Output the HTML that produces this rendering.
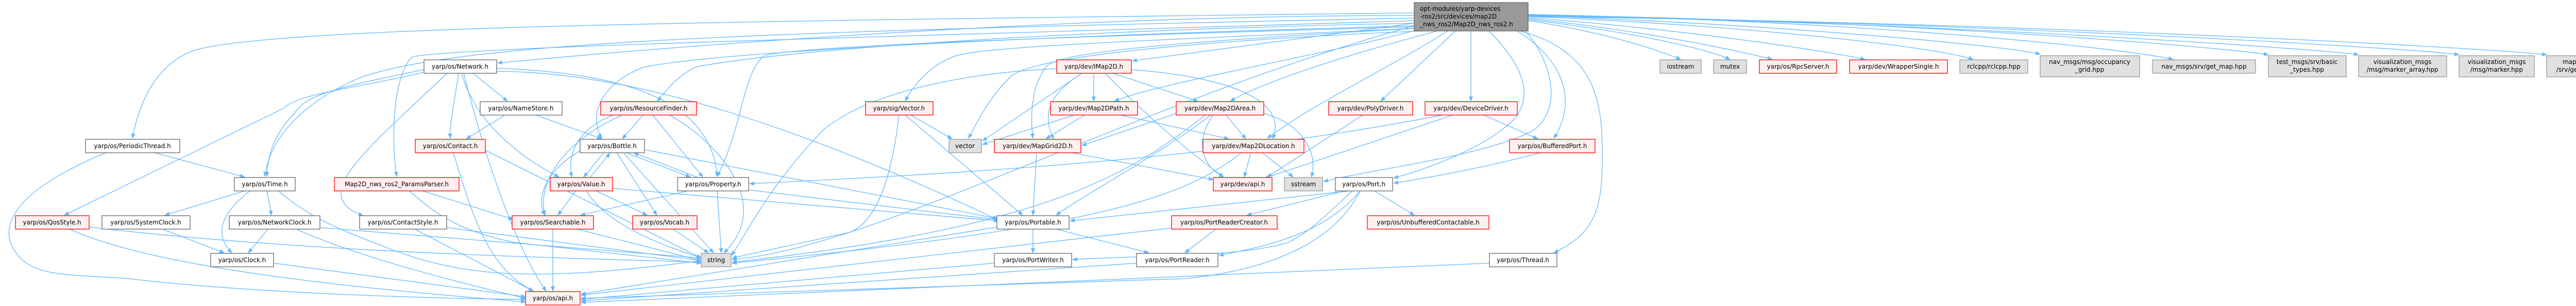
<!DOCTYPE html>
<html><head><meta charset="utf-8"><style>
html,body{margin:0;padding:0;background:#fff;}
svg{display:block;}
text{font-family:"DejaVu Sans","Liberation Sans",sans-serif;font-size:12px;fill:#000;}
.n{fill:#fff;stroke:#666;stroke-width:1.3}
.r{fill:#fff0f0;stroke:#f00;stroke-width:1.3}
.g{fill:#e0e0e0;stroke:#999;stroke-width:1.3}
.e path{fill:none;stroke:#63b8ff;stroke-width:1.3;marker-end:url(#a)}
</style></head><body>
<svg width="5152" height="593" viewBox="0 0 5152 593" xmlns="http://www.w3.org/2000/svg">
<defs><marker id="a" markerWidth="10" markerHeight="8" refX="9" refY="4" orient="auto" markerUnits="userSpaceOnUse"><path d="M0,0 L10,4 L0,8z" fill="#63b8ff"/></marker></defs>
<g class="e">
<path d="M2745,30 C2000,30 1200,100 966,122"/>
<path d="M2745,25 C1500,40 500,50 370,100 C300,130 270,200 257,268"/>
<path d="M2745,35 C1500,60 900,80 700,150 C560,210 520,290 514,342"/>
<path d="M2745,40 C1800,70 900,90 800,110 C760,150 760,280 770,342"/>
<path d="M2745,45 C2000,60 1500,100 1350,130 C1310,150 1290,180 1276,196"/>
<path d="M2745,50 C2000,70 1400,100 1250,130 C1170,160 1140,220 1168,268"/>
<path d="M2745,52 C2100,70 1500,90 1480,110 C1440,150 1440,250 1392,342"/>
<path d="M2745,55 C2200,80 1900,90 1850,110 C1800,130 1770,170 1757,196"/>
<path d="M2760,60 C2300,80 2000,110 1960,150 C1920,190 1900,230 1880,268"/>
<path d="M2750,55 C2300,80 2050,100 2030,130 C2000,170 2000,230 2005,268"/>
<path d="M2745,45 L2198,118"/>
<path d="M2750,58 C2600,100 2250,160 2163,196"/>
<path d="M2790,60 C2600,110 2450,160 2388,196"/>
<path d="M2810,60 C2700,130 2550,200 2460,268"/>
<path d="M2825,60 L2680,196"/>
<path d="M2855,60 L2855,196"/>
<path d="M2890,60 C2950,120 2980,180 2940,230 C2880,290 2760,330 2705,345"/>
<path d="M2945,60 C3040,120 3060,200 3016,268"/>
<path d="M2950,60 C3100,100 3110,200 3110,300 C3110,400 3100,450 3016,490"/>
<path d="M2960,60 C3000,100 3040,200 2980,250 C2900,300 2650,330 2569,352"/>
<path d="M2745,50 C2200,200 1700,480 1421,503"/>
<path d="M2966,40 C3100,60 3200,90 3262,115"/>
<path d="M2966,38 C3150,60 3300,90 3358,115"/>
<path d="M2966,36 C3200,60 3380,100 3440,115"/>
<path d="M2966,34 C3300,60 3550,100 3620,115"/>
<path d="M2966,32 C3400,50 3750,90 3830,115"/>
<path d="M2966,30 C3500,50 3900,90 3960,105"/>
<path d="M2966,28 C3600,40 4100,90 4218,115"/>
<path d="M2966,29 C3700,40 4300,90 4403,106"/>
<path d="M2966,30 C3800,45 4500,95 4578,106"/>
<path d="M2966,31 C3900,45 4700,95 4773,106"/>
<path d="M2966,32 C4000,45 4850,95 4943,106"/>
<path d="M918,142 L985,196"/>
<path d="M890,142 C882,200 872,240 874,268"/>
<path d="M823,135 C700,160 600,180 580,210 C530,260 520,300 518,342"/>
<path d="M823,140 C700,170 580,180 550,210 L125,417"/>
<path d="M868,142 C700,300 600,380 705,418"/>
<path d="M964,138 C1200,140 1500,220 1935,425"/>
<path d="M896,142 C920,230 1000,300 1085,343"/>
<path d="M964,132 C1150,140 1380,170 1392,342"/>
<path d="M900,142 C940,300 1000,480 1060,564"/>
<path d="M980,223 L905,269"/>
<path d="M1040,223 L1168,269"/>
<path d="M880,296 C920,430 950,520 1035,564"/>
<path d="M940,290 L1361,500"/>
<path d="M300,296 L475,343"/>
<path d="M205,296 C100,340 0,400 20,470 C50,540 120,530 250,540 C500,570 900,580 1020,580"/>
<path d="M475,370 L320,417"/>
<path d="M518,370 L527,417"/>
<path d="M485,370 C420,420 420,460 450,490"/>
<path d="M540,370 C600,420 650,440 700,460 C850,520 950,560 1361,505"/>
<path d="M135,444 C300,520 700,560 1020,585"/>
<path d="M173,440 C600,490 1100,500 1361,508"/>
<path d="M315,444 L435,490"/>
<path d="M520,444 L482,490"/>
<path d="M575,444 C700,500 900,550 1020,578"/>
<path d="M621,441 L1361,500"/>
<path d="M805,444 L1035,564"/>
<path d="M867,441 L1361,505"/>
<path d="M531,510 L1020,575"/>
<path d="M795,370 C850,420 900,450 1000,470 L1361,510"/>
<path d="M820,370 L996,425"/>
<path d="M1073,444 L1073,564"/>
<path d="M1120,444 L1361,505"/>
<path d="M1248,223 L1208,269"/>
<path d="M1190,223 C1120,250 1100,300 1110,343"/>
<path d="M1208,223 C1100,270 1040,350 1058,417"/>
<path d="M1267,223 L1364,343"/>
<path d="M1300,223 C1400,280 1500,400 1405,490"/>
<path d="M1172,296 L1133,343"/>
<path d="M1145,344 L1184,297"/>
<path d="M1130,290 C1060,330 1040,380 1057,417"/>
<path d="M1197,296 L1275,417"/>
<path d="M1215,296 L1340,343"/>
<path d="M1355,344 L1230,296"/>
<path d="M1210,296 L1385,490"/>
<path d="M1251,290 L1938,424"/>
<path d="M1117,370 L1083,417"/>
<path d="M1157,370 L1256,417"/>
<path d="M1138,370 C1180,440 1300,480 1362,500"/>
<path d="M1189,365 L1938,428"/>
<path d="M1335,370 L1127,417"/>
<path d="M1392,370 L1400,490"/>
<path d="M1453,368 L1938,426"/>
<path d="M1306,444 L1375,490"/>
<path d="M1768,223 L1848,269"/>
<path d="M1757,223 L1985,417"/>
<path d="M1745,223 C1730,350 1700,430 1650,450 L1421,500"/>
<path d="M2080,296 L2355,348"/>
<path d="M2012,296 L2005,417"/>
<path d="M2100,142 C2040,180 2020,220 2045,269"/>
<path d="M2123,142 L2123,196"/>
<path d="M2160,142 L2325,196"/>
<path d="M2196,135 C2400,150 2500,200 2470,269"/>
<path d="M2145,142 C2250,250 2330,310 2375,343"/>
<path d="M2051,133 C1900,140 1700,170 1600,250 C1500,350 1450,450 1420,495"/>
<path d="M2100,142 L1907,273"/>
<path d="M2175,223 L2385,269"/>
<path d="M2105,223 L2030,269"/>
<path d="M2085,223 L1907,280"/>
<path d="M2380,223 L2418,269"/>
<path d="M2355,223 C2320,270 2330,320 2375,343"/>
<path d="M2453,220 C2530,240 2560,300 2545,343"/>
<path d="M2350,223 C2250,300 2100,380 2050,417"/>
<path d="M2283,220 L2100,282"/>
<path d="M2340,223 C2200,330 2050,440 1421,508"/>
<path d="M2428,296 L2415,343"/>
<path d="M2450,296 L2510,343"/>
<path d="M2410,296 C2300,380 2150,440 1421,510"/>
<path d="M2645,223 L2460,343"/>
<path d="M2820,223 L2455,345"/>
<path d="M2880,223 L2985,269"/>
<path d="M2800,223 C2400,300 2000,330 1455,356"/>
<path d="M2990,296 C2900,320 2800,340 2705,355"/>
<path d="M2620,370 L2077,428"/>
<path d="M2610,370 L2420,417"/>
<path d="M2668,370 L2745,417"/>
<path d="M2625,370 C2560,430 2540,450 2500,470 C2400,500 2200,495 2082,503"/>
<path d="M2640,370 C2580,440 2500,470 2366,495"/>
<path d="M2640,370 C2600,450 2500,520 2300,540 L1128,578"/>
<path d="M2005,444 L2005,490"/>
<path d="M2050,444 L2230,490"/>
<path d="M1935,440 L1128,570"/>
<path d="M2360,444 L2300,490"/>
<path d="M2274,442 L1128,572"/>
<path d="M1930,510 L1128,580"/>
<path d="M2206,510 L1128,583"/>
<path d="M2891,510 L1128,586"/>
</g>
<!-- main -->
<rect x="2745" y="5" width="221" height="55" fill="#999" stroke="#666" stroke-width="1.3"/>
<text x="2756" y="21">opt-modules/yarp-devices</text>
<text x="2756" y="36">-ros2/src/devices/map2D</text>
<text x="2756" y="51">_nws_ros2/Map2D_nws_ros2.h</text>
<!-- nodes -->
<g text-anchor="middle">
<rect class="n" x="823" y="116" width="141" height="26"/><text x="893" y="133">yarp/os/Network.h</text>
<rect class="n" x="932" y="197" width="159" height="26"/><text x="1011" y="214">yarp/os/NameStore.h</text>
<rect class="n" x="166" y="270" width="183" height="26"/><text x="257" y="287">yarp/os/PeriodicThread.h</text>
<rect class="r" x="806" y="270" width="136" height="26"/><text x="874" y="287">yarp/os/Contact.h</text>
<rect class="n" x="455" y="344" width="118" height="26"/><text x="514" y="361">yarp/os/Time.h</text>
<rect class="r" x="649" y="344" width="242" height="26"/><text x="770" y="361">Map2D_nws_ros2_ParamsParser.h</text>
<rect class="r" x="30" y="418" width="143" height="26"/><text x="101" y="435">yarp/os/QosStyle.h</text>
<rect class="n" x="198" y="418" width="171" height="26"/><text x="283" y="435">yarp/os/SystemClock.h</text>
<rect class="n" x="445" y="418" width="176" height="26"/><text x="533" y="435">yarp/os/NetworkClock.h</text>
<rect class="n" x="698" y="418" width="169" height="26"/><text x="782" y="435">yarp/os/ContactStyle.h</text>
<rect class="r" x="994" y="418" width="158" height="26"/><text x="1073" y="435">yarp/os/Searchable.h</text>
<rect class="n" x="409" y="491" width="122" height="26"/><text x="470" y="508">yarp/os/Clock.h</text>
<rect class="r" x="1020" y="565" width="106" height="26"/><text x="1073" y="582">yarp/os/api.h</text>
<rect class="r" x="1166" y="197" width="186" height="26"/><text x="1259" y="214">yarp/os/ResourceFinder.h</text>
<rect class="r" x="1680" y="197" width="131" height="26"/><text x="1745" y="214">yarp/sig/Vector.h</text>
<rect class="n" x="1126" y="270" width="125" height="26"/><text x="1188" y="287">yarp/os/Bottle.h</text>
<rect class="g" x="1842" y="270" width="63" height="26"/><text x="1873" y="287">vector</text>
<rect class="r" x="1930" y="270" width="168" height="26"/><text x="2014" y="287">yarp/dev/MapGrid2D.h</text>
<rect class="r" x="1068" y="344" width="121" height="26"/><text x="1128" y="361">yarp/os/Value.h</text>
<rect class="n" x="1315" y="344" width="138" height="26"/><text x="1384" y="361">yarp/os/Property.h</text>
<rect class="r" x="1228" y="418" width="125" height="26"/><text x="1290" y="435">yarp/os/Vocab.h</text>
<rect class="n" x="1935" y="418" width="140" height="26"/><text x="2005" y="435">yarp/os/Portable.h</text>
<rect class="g" x="1361" y="491" width="58" height="26"/><text x="1390" y="508">string</text>
<rect class="n" x="1930" y="491" width="150" height="26"/><text x="2005" y="508">yarp/os/PortWriter.h</text>
<rect class="r" x="2051" y="116" width="145" height="26"/><text x="2123" y="133">yarp/dev/IMap2D.h</text>
<rect class="r" x="2039" y="197" width="169" height="26"/><text x="2123" y="214">yarp/dev/Map2DPath.h</text>
<rect class="r" x="2283" y="197" width="170" height="26"/><text x="2368" y="214">yarp/dev/Map2DArea.h</text>
<rect class="r" x="2579" y="197" width="163" height="26"/><text x="2660" y="214">yarp/dev/PolyDriver.h</text>
<rect class="r" x="2766" y="197" width="179" height="26"/><text x="2855" y="214">yarp/dev/DeviceDriver.h</text>
<rect class="r" x="2335" y="270" width="196" height="26"/><text x="2433" y="287">yarp/dev/Map2DLocation.h</text>
<rect class="r" x="2930" y="270" width="166" height="26"/><text x="3013" y="287">yarp/os/BufferedPort.h</text>
<rect class="r" x="2355" y="344" width="114" height="26"/><text x="2412" y="361">yarp/dev/api.h</text>
<rect class="g" x="2493" y="344" width="74" height="26"/><text x="2530" y="361">sstream</text>
<rect class="n" x="2592" y="344" width="111" height="26"/><text x="2647" y="361">yarp/os/Port.h</text>
<rect class="r" x="2274" y="418" width="205" height="26"/><text x="2376" y="435">yarp/os/PortReaderCreator.h</text>
<rect class="r" x="2654" y="418" width="236" height="26"/><text x="2772" y="435">yarp/os/UnbufferedContactable.h</text>
<rect class="n" x="2206" y="491" width="158" height="26"/><text x="2285" y="508">yarp/os/PortReader.h</text>
<rect class="n" x="2891" y="491" width="131" height="26"/><text x="2956" y="508">yarp/os/Thread.h</text>
<rect class="g" x="3222" y="116" width="80" height="26"/><text x="3262" y="133">iostream</text>
<rect class="g" x="3326" y="116" width="64" height="26"/><text x="3358" y="133">mutex</text>
<rect class="r" x="3415" y="116" width="150" height="26"/><text x="3490" y="133">yarp/os/RpcServer.h</text>
<rect class="r" x="3590" y="116" width="190" height="26"/><text x="3685" y="133">yarp/dev/WrapperSingle.h</text>
<rect class="g" x="3804" y="116" width="132" height="26"/><text x="3870" y="133">rclcpp/rclcpp.hpp</text>
<rect class="g" x="3960" y="108" width="193" height="41"/><text x="4056" y="124">nav_msgs/msg/occupancy</text><text x="4056" y="139">_grid.hpp</text>
<rect class="g" x="4178" y="116" width="200" height="26"/><text x="4278" y="133">nav_msgs/srv/get_map.hpp</text>
<rect class="g" x="4403" y="108" width="151" height="41"/><text x="4478" y="124">test_msgs/srv/basic</text><text x="4478" y="139">_types.hpp</text>
<rect class="g" x="4578" y="108" width="171" height="41"/><text x="4663" y="124">visualization_msgs</text><text x="4663" y="139">/msg/marker_array.hpp</text>
<rect class="g" x="4773" y="108" width="146" height="41"/><text x="4846" y="124">visualization_msgs</text><text x="4846" y="139">/msg/marker.hpp</text>
<rect class="g" x="4943" y="108" width="204" height="41"/><text x="5045" y="124">map2d_nws_ros2_msgs</text><text x="5045" y="139">/srv/get_map_by_name.hpp</text>
</g>
</svg>
</body></html>
